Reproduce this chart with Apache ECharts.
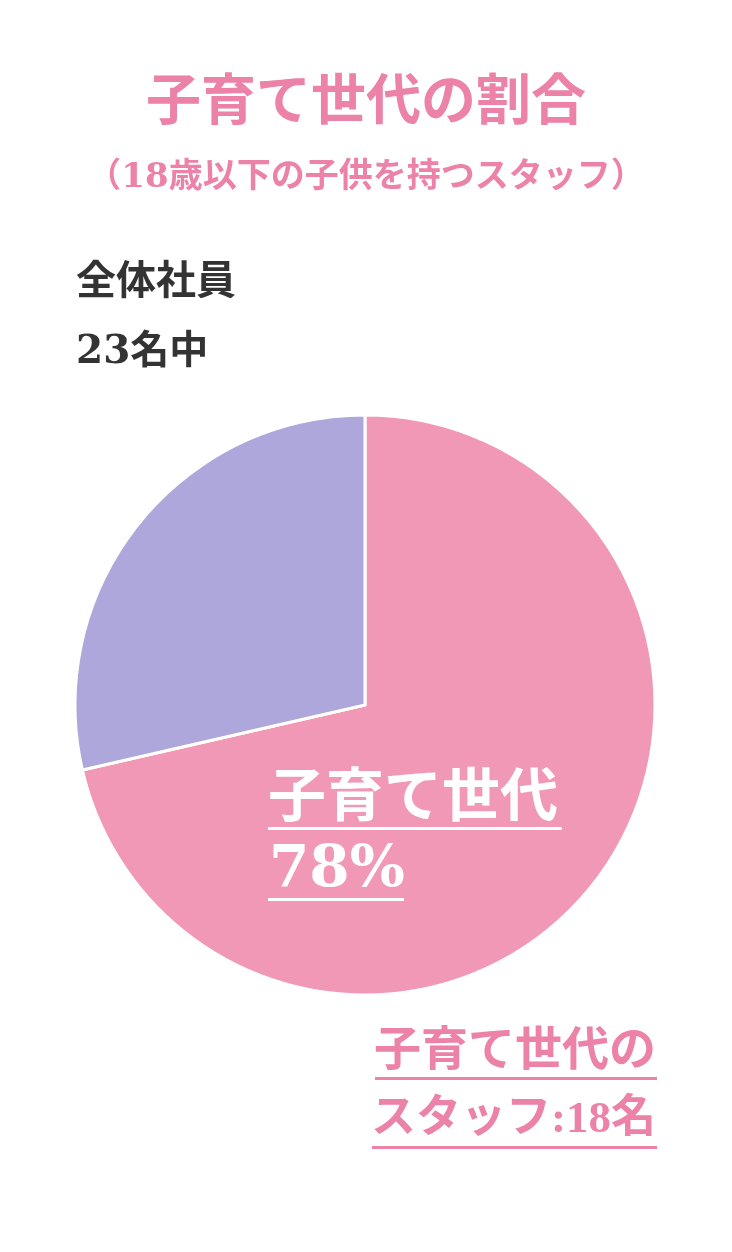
<!DOCTYPE html>
<html>
<head>
<meta charset="utf-8">
<script src="https://cdn.jsdelivr.net/npm/echarts@6/dist/echarts.min.js"></script>
<style>
html,body{margin:0;padding:0;background:#fff;}
#chart{width:732px;height:1252px;}
</style>
</head>
<body>
<div id="chart"></div>
<script>
// ---- data ----
const categories = ['子育て世代', 'その他'];
const sliceValues = [71.4, 28.6];          // slice sizes as drawn
const sliceColors = ['#f098b6', '#ada7dc'];
const titleText = '子育て世代の割合';
const subtitleText = '（18歳以下の子供を持つスタッフ）';
const totalLines = ['全体社員', '23名中'];
const insideLabel = ['子育て世代', '78%'];
const outsideLabel = ['子育て世代の', 'スタッフ:18名'];

const JP = "'DejaVu Serif', 'Noto Sans CJK JP', serif";
const JP2 = "'Liberation Serif', 'Noto Sans CJK JP', serif";
const PINK_TEXT = '#ec82a8';

const chart = echarts.init(document.getElementById('chart'), null, {renderer: 'canvas'});
chart.setOption({
  backgroundColor: '#ffffff',
  animation: false,
  title: [
    {text: titleText, left: 'center', top: 72,
     textStyle: {fontFamily: JP, fontSize: 55, fontWeight: 'bold', color: PINK_TEXT}},
    {text: subtitleText, left: 'center', top: 156,
     textStyle: {fontFamily: JP, fontSize: 34, fontWeight: 'bold', color: PINK_TEXT}}
  ],
  series: [{
    type: 'pie',
    center: [365, 705],
    radius: [0, 290],
    startAngle: 90,
    clockwise: true,
    label: {show: false},
    labelLine: {show: false},
    emphasis: {disabled: true},
    itemStyle: {borderColor: '#ffffff', borderWidth: 3},
    data: categories.map((c, i) => ({name: c, value: sliceValues[i], itemStyle: {color: sliceColors[i]}}))
  }],
  graphic: [
    {type: 'text', left: 76, top: 264, z: 10,
     style: {text: totalLines[0], font: 'bold 40px ' + JP, fill: '#333333'}},
    {type: 'text', left: 76, top: 333, z: 10,
     style: {text: totalLines[1], font: 'bold 39px ' + JP, fill: '#333333'}},
    {type: 'text', left: 268, top: 772, z: 10,
     style: {text: insideLabel[0], font: 'bold 58px ' + JP, fill: '#ffffff'}},
    {type: 'rect', z: 10, shape: {x: 268, y: 827, width: 294, height: 3}, style: {fill: '#ffffff'}},
    {type: 'text', left: 269, top: 842, z: 10,
     style: {text: insideLabel[1], font: 'bold 58px ' + JP, fill: '#ffffff'}},
    {type: 'rect', z: 10, shape: {x: 268, y: 898, width: 136, height: 3}, style: {fill: '#ffffff'}},
    {type: 'text', right: 76, top: 1029, z: 10,
     style: {text: outsideLabel[0], font: 'bold 47px ' + JP, fill: PINK_TEXT}},
    {type: 'rect', z: 10, shape: {x: 375, y: 1077, width: 282, height: 3}, style: {fill: PINK_TEXT}},
    {type: 'text', right: 76, top: 1098, z: 10,
     style: {text: outsideLabel[1], font: 'bold 45px ' + JP2, fill: PINK_TEXT}},
    {type: 'rect', z: 10, shape: {x: 372, y: 1146, width: 285, height: 3}, style: {fill: PINK_TEXT}}
  ]
});
</script>
</body>
</html>
